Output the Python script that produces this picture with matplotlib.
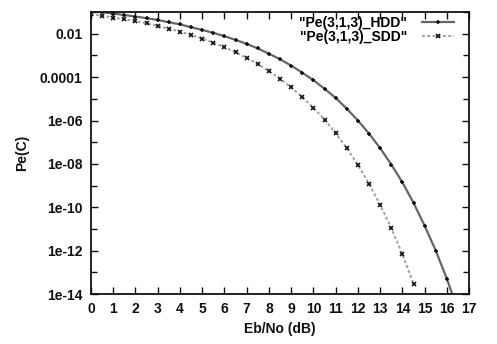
import matplotlib
matplotlib.use("Agg")
import matplotlib.pyplot as plt
import numpy as np

plt.rcParams['font.family'] = ['Liberation Sans', 'DejaVu Sans']
plt.rcParams['font.weight'] = 'bold'
plt.rcParams['axes.labelweight'] = 'bold'

# Eb/No in dB, step 0.5
ebno_hdd = [0, 0.5, 1, 1.5, 2, 2.5, 3, 3.5, 4, 4.5, 5, 5.5, 6, 6.5, 7, 7.5, 8,
            8.5, 9, 9.5, 10, 10.5, 11, 11.5, 12, 12.5, 13, 13.5, 14, 14.5, 15,
            15.5, 16, 16.5]
pe_hdd = [1.1e-1, 9.8e-2, 8.5e-2, 7.3e-2, 6.2e-2, 5.2e-2, 4.3e-2, 3.4e-2,
          2.7e-2, 2.0e-2, 1.5e-2, 1.1e-2, 7.7e-3, 5.2e-3, 3.4e-3, 2.1e-3,
          1.2e-3, 6.7e-4, 3.4e-4, 1.6e-4, 7.2e-5, 2.9e-5, 1.1e-5, 3.5e-6,
          1.0e-6, 2.5e-7, 5.3e-8, 9.4e-9, 1.4e-9, 1.6e-10, 1.4e-11, 1.0e-12,
          5.0e-14, 1.7e-15]

ebno_sdd = [0, 0.5, 1, 1.5, 2, 2.5, 3, 3.5, 4, 4.5, 5, 5.5, 6, 6.5, 7, 7.5, 8,
            8.5, 9, 9.5, 10, 10.5, 11, 11.5, 12, 12.5, 13, 13.5, 14, 14.5]
pe_sdd = [7.9e-2, 6.7e-2, 5.6e-2, 4.6e-2, 3.8e-2, 3.0e-2, 2.3e-2, 1.7e-2,
          1.25e-2, 8.8e-3, 6.0e-3, 3.9e-3, 2.4e-3, 1.4e-3, 7.7e-4, 4.0e-4,
          1.9e-4, 8.4e-5, 3.4e-5, 1.2e-5, 3.9e-6, 1.1e-6, 2.6e-7, 5.3e-8,
          9.0e-9, 1.2e-9, 1.3e-10, 1.1e-11, 6.8e-13, 3.0e-14]

x_ticks = list(range(0, 18))
y_label_ticks = [1e-14, 1e-12, 1e-10, 1e-8, 1e-6, 1e-4, 1e-2]
y_tick_text = ["1e-14", "1e-12", "1e-10", "1e-08", "1e-06", "0.0001", "0.01"]
y_minor_ticks = [1e-13, 1e-11, 1e-9, 1e-7, 1e-5, 1e-3, 1e-1]

fig = plt.figure(figsize=(4.97, 3.44), dpi=100)
ax = fig.add_axes([0.183, 0.145, 0.761, 0.820])

ax.plot(ebno_hdd, pe_hdd, color="#666666", lw=1.6, ls="-",
        marker="+", ms=3.5, mec="#111111", mew=1.2,
        label='"Pe(3,1,3)_HDD"')
ax.plot(ebno_sdd, pe_sdd, color="#a0a0a0", lw=1.4, ls=(0, (1.5, 1.2)),
        marker="x", ms=3.0, mec="#111111", mew=1.2,
        label='"Pe(3,1,3)_SDD"')

ax.set_yscale("log")
ax.set_xlim(0, 17)
ax.set_ylim(1e-14, 1e-1)
ax.set_xticks(x_ticks)
ax.set_xticklabels([str(v) for v in x_ticks])
ax.set_yticks(y_label_ticks)
ax.set_yticklabels(y_tick_text)
ax.set_yticks(y_minor_ticks, minor=True)
ax.yaxis.set_minor_formatter(matplotlib.ticker.NullFormatter())
ax.xaxis.set_minor_locator(matplotlib.ticker.NullLocator())

ax.tick_params(which="both", direction="in", top=True, right=True,
               labelsize=10, width=1.0, colors="#111111", pad=6)
ax.tick_params(which="major", length=5)
ax.tick_params(which="minor", length=4)
for s in ax.spines.values():
    s.set_linewidth(1.3)
    s.set_color("#111111")

ax.set_xlabel("Eb/No (dB)", fontsize=10, labelpad=4, color="#111111")
ax.set_ylabel("Pe(C)", fontsize=10, labelpad=8, color="#111111")

leg = ax.legend(loc="upper right", frameon=False, markerfirst=False,
                fontsize=10, handlelength=2.3, handletextpad=1.1,
                borderaxespad=0.0, labelspacing=0.0,
                bbox_to_anchor=(0.975, 1.005))

fig.savefig("out.png", dpi=100)
